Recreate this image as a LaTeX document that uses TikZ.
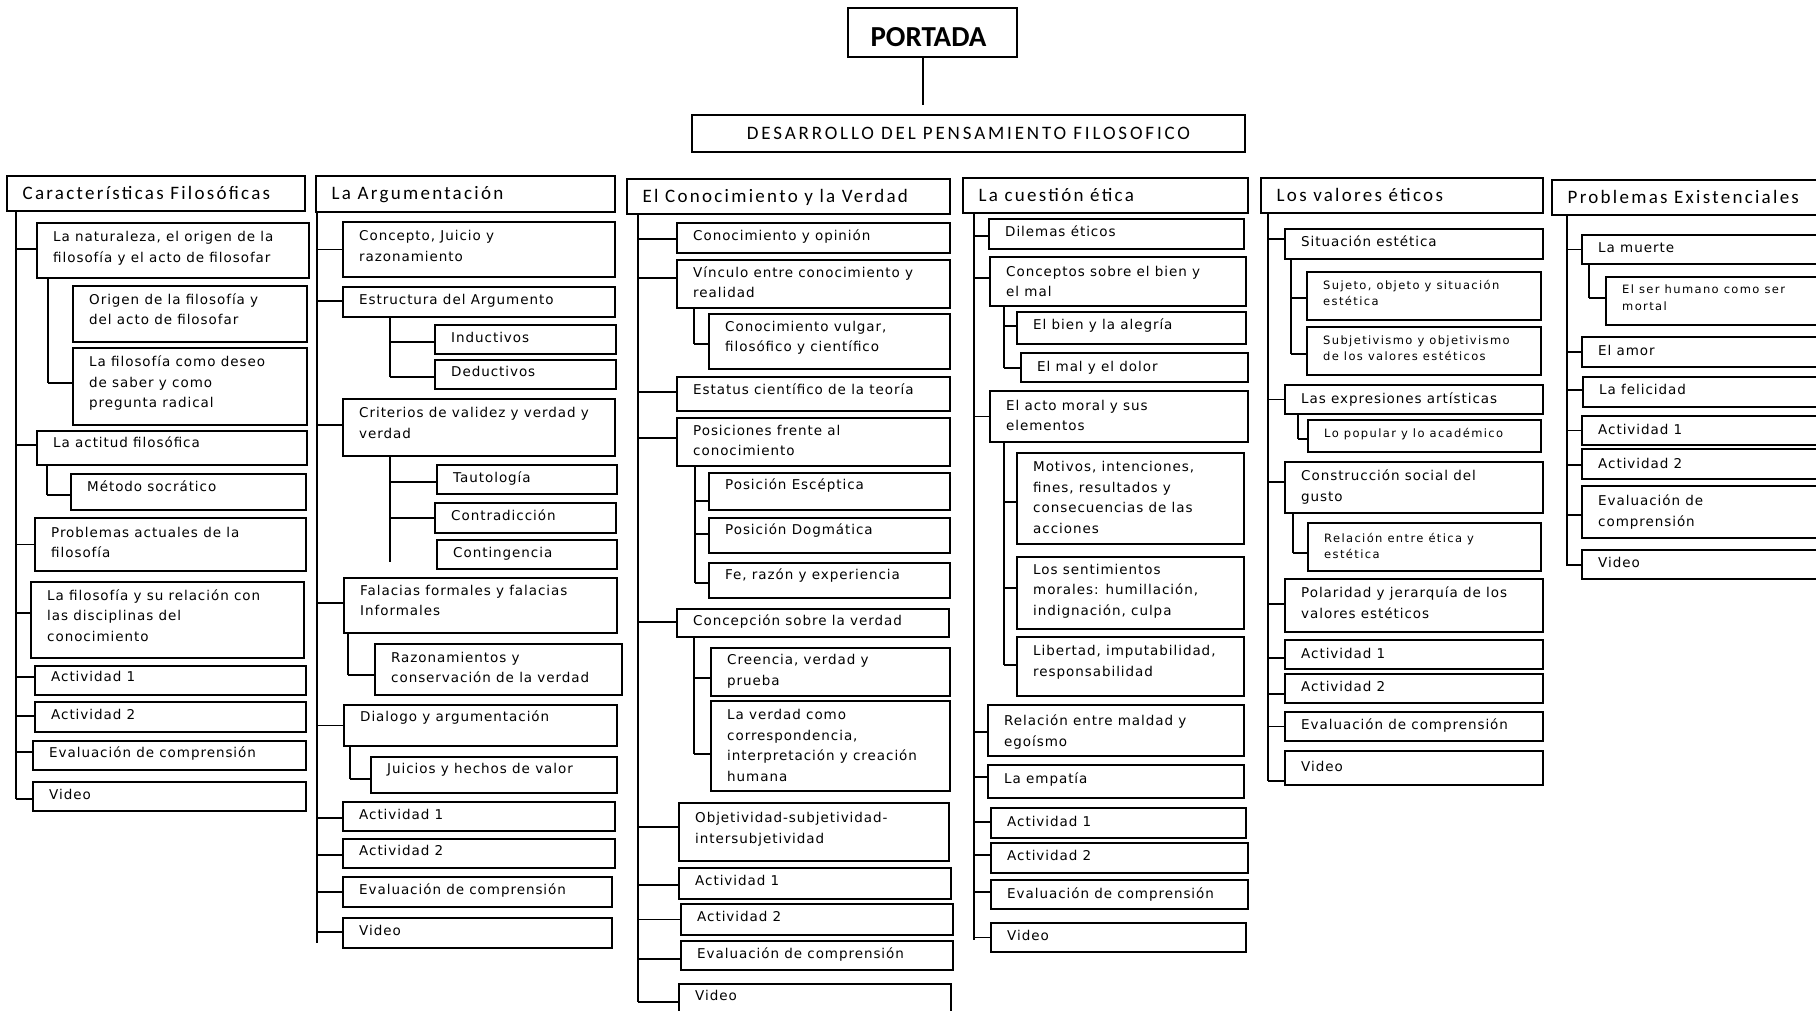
\documentclass[tikz,border=0pt]{standalone}
\usepackage{fontspec}
\usetikzlibrary{calc}
\newfontfamily\hdrfont{Carlito}[LetterSpace=12]
\newfontfamily\ttlfont{Carlito}[LetterSpace=15]
\newfontfamily\ptfont{Carlito}
\newfontfamily\bxfont{DejaVu Sans}[LetterSpace=7]
\newfontfamily\smfont{DejaVu Sans}[LetterSpace=12]
\tikzset{
 boxs/.style={draw=black, line width=1.6pt, inner sep=0pt, outer sep=0pt, anchor=north west},
 bt/.style={anchor=north west, inner sep=0pt, align=left, font=\bxfont\fontsize{13.5}{20.5}\selectfont},
 st/.style={anchor=north west, inner sep=0pt, align=left, font=\smfont\fontsize{11.5}{16.5}\selectfont},
 ht/.style={anchor=base west, inner sep=0pt, font=\hdrfont\fontsize{19}{23}\selectfont},
 conn/.style={draw=black, line width=1.6pt},
}
\newcommand\bx[8][bt]{%
 \node[boxs, minimum width={#5pt-#3pt}, minimum height={#6pt-#4pt}] (#2) at (#3,#4) {};
 \node[#1] (#2t) at (#3+16,#4+#7-14) {\rule{0pt}{14pt}#8};}
\newcommand\hd[6]{%
 \node[boxs, minimum width={#4pt-#2pt}, minimum height={#5pt-#3pt}] (#1) at (#2,#3) {};
 \node[ht] (#1t) at (#2+15.5,#3+23) {#6};}
\newcommand\br[3]{\path ($(#2.west)+(0,#3)$) coordinate (#2c); \draw[conn] (#1 |- #2c) -- (#2c);}
\newcommand\vl[2]{\draw[conn] (#1 |- #2.south) -- (#1);}
\begin{document}
\begin{tikzpicture}[x=1pt,y=-1pt]
\clip (0,0) rectangle (1816,1010);
\fill[white] (0,0) rectangle (1816,1010);

% top
\node[boxs, minimum width=169pt, minimum height=49pt] (portada) at (848,8) {};
\node[anchor=base, inner sep=0pt, font=\ptfont\bfseries\fontsize{29}{32}\selectfont] (portadat) at (928.5,46.5) {PORTADA};
\coordinate (pd) at (923,105);
\draw[conn] (portada.south -| pd) -- (pd);
\node[boxs, minimum width=553pt, minimum height=37pt, font=\ttlfont\fontsize{19}{23}\selectfont] (des) at (692,115) {DESARROLLO DEL PENSAMIENTO FILOSOFICO};

% column 1
\hd{h1}{7}{176}{305}{211}{Características Filosóficas}
\bx{b11}{37}{223}{309}{278}{18.7}{La naturaleza, el origen de la\\filosofía y el acto de filosofar}
\bx{b111}{73}{286}{307}{342}{18}{Origen de la filosofía y\\del acto de filosofar}
\bx{b112}{73}{348}{307}{425}{18.4}{La filosofía como deseo\\de saber y como\\pregunta radical}
\bx{b12}{37}{431}{307}{465}{16.7}{La actitud filosófica}
\bx{b121}{71}{474}{306}{510}{17.4}{Método socrático}
\bx{b13}{35}{518}{306}{571}{19}{Problemas actuales de la\\filosofía}
\bx{b14}{31}{582}{304}{658}{18}{La filosofía y su relación con\\las disciplinas del\\conocimiento}
\bx{b15}{35}{666}{306}{695}{15.3}{Actividad 1}
\bx{b16}{35}{702}{306}{732}{17.4}{Actividad 2}
\bx{b17}{33}{741}{306}{770}{16.3}{Evaluación de comprensión}
\bx{b18}{33}{782}{306}{811}{17}{Video}
\coordinate (T1) at (16,799); \vl{T1}{h1}
\br{T1}{b11}{-1.5} \br{T1}{b12}{-3} \br{T1}{b13}{0} \br{T1}{b14}{-7}
\br{T1}{b15}{-3.5} \br{T1}{b16}{-1} \br{T1}{b17}{-3.5} \br{T1}{b18}{2.5}
\coordinate (S11) at (48,383); \vl{S11}{b11} \br{S11}{b112}{-3.5}
\coordinate (S12) at (47,495); \vl{S12}{b12} \br{S12}{b121}{3}

% column 2
\hd{h2}{316}{176}{615}{212}{La Argumentación}
\bx{b21}{343}{222}{615}{277}{18.7}{Concepto, Juicio y\\razonamiento}
\bx{b22}{343}{287}{615}{317}{17.7}{Estructura del Argumento}
\bx{b221}{435}{325}{616}{354}{17.7}{Inductivos}
\bx{b222}{435}{360}{616}{389}{16.4}{Deductivos}
\bx{b23}{343}{399}{615}{456}{18.7}{Criterios de validez y verdad y\\verdad}
\bx{b231}{437}{465}{617}{494}{17}{Tautología}
\bx{b232}{435}{503}{616}{533}{17.7}{Contradicción}
\bx{b233}{437}{540}{617}{569}{17}{Contingencia}
\bx{b24}{344}{578}{617}{633}{17}{Falacias formales y falacias\\Informales}
\bx{b241}{375}{644}{622}{695}{18}{Razonamientos y\\conservación de la verdad}
\bx{b25}{344}{705}{617}{746}{16.4}{Dialogo y argumentación}
\bx{b251}{371}{757}{617}{793}{16.4}{Juicios y hechos de valor}
\bx{b26}{343}{802}{615}{831}{17}{Actividad 1}
\bx{b27}{343}{839}{615}{868}{16.7}{Actividad 2}
\bx{b28}{343}{877}{612}{907}{17}{Evaluación de comprensión}
\bx{b29}{343}{918}{612}{948}{17}{Video}
\coordinate (T2) at (317,943); \vl{T2}{h2}
\br{T2}{b21}{0} \br{T2}{b22}{-1} \br{T2}{b23}{-2.5} \br{T2}{b24}{-2.5} \br{T2}{b25}{0}
\br{T2}{b26}{1.5} \br{T2}{b27}{1.5} \br{T2}{b28}{0} \br{T2}{b29}{-1}
\coordinate (S22) at (390,377); \vl{S22}{b22} \br{S22}{b221}{2.5} \br{S22}{b222}{2.5}
\coordinate (S23) at (390,562); \vl{S23}{b23} \br{S23}{b231}{2.5} \br{S23}{b232}{0}
\coordinate (S24) at (348,675); \vl{S24}{b24} \br{S24}{b241}{5.5}
\coordinate (S25) at (350,779); \vl{S25}{b25} \br{S25}{b251}{4}

% column 3
\hd{h3}{627}{179}{950}{214}{El Conocimiento y la Verdad}
\bx{b31}{677}{223}{950}{253}{17}{Conocimiento y opinión}
\bx{b32}{677}{260}{950}{308}{17}{Vínculo entre conocimiento y\\realidad}
\bx{b321}{709}{314}{950}{369}{17}{Conocimiento vulgar,\\filosófico y científico}
\bx{b33}{677}{377}{950}{411}{17}{Estatus científico de la teoría}
\bx{b34}{677}{418}{950}{466}{17}{Posiciones frente al\\conocimiento}
\bx{b341}{709}{473}{950}{510}{16.4}{Posición Escéptica}
\bx{b342}{709}{518}{950}{553}{16.7}{Posición Dogmática}
\bx{b343}{709}{563}{950}{598}{16.4}{Fe, razón y experiencia}
\bx{b35}{677}{609}{949}{637}{16.4}{Concepción sobre la verdad}
\bx{b351}{711}{648}{950}{696}{16.4}{Creencia, verdad y\\prueba}
\bx{b352}{711}{701}{950}{791}{18.4}{La verdad como\\correspondencia,\\interpretación y creación\\humana}
\bx{b36}{679}{803}{949}{861}{19.3}{Objetividad-subjetividad-\\intersubjetividad}
\bx{b37}{679}{868}{951}{899}{17}{Actividad 1}
\bx{b38}{681}{904}{953}{935}{17}{Actividad 2}
\bx{b39}{681}{941}{953}{970}{17}{Evaluación de comprensión}
\bx{b310}{679}{984}{951}{1015}{16.4}{Video}
\coordinate (T3) at (638,1002); \vl{T3}{h3}
\br{T3}{b31}{1} \br{T3}{b32}{-6} \br{T3}{b33}{-2} \br{T3}{b34}{-4} \br{T3}{b35}{-1}
\br{T3}{b36}{-5} \br{T3}{b37}{1.5} \br{T3}{b38}{0} \br{T3}{b39}{3.5} \br{T3}{b310}{2.5}
\coordinate (S32) at (694,344); \vl{S32}{b32} \br{S32}{b321}{2.5}
\coordinate (S34) at (695,583); \vl{S34}{b34} \br{S34}{b341}{9.5} \br{S34}{b342}{-1.5} \br{S34}{b343}{2.5}
\coordinate (S35) at (694,754); \vl{S35}{b35} \br{S35}{b351}{6} \br{S35}{b352}{8}

% column 4
\hd{h4}{963}{178}{1248}{213}{La cuestión ética}
\bx{b41}{989}{219}{1244}{249}{17.7}{Dilemas éticos}
\bx{b42}{990}{257}{1246}{306}{19}{Conceptos sobre el bien y\\el mal}
\bx{b421}{1017}{312}{1246}{344}{17}{El bien y la alegría}
\bx{b422}{1021}{353}{1248}{382}{18.3}{El mal y el dolor}
\bx{b43}{990}{391}{1248}{442}{19}{El acto moral y sus\\elementos}
\bx{b431}{1017}{453}{1244}{544}{18.7}{Motivos, intenciones,\\fines, resultados y\\consecuencias de las\\acciones}
\bx{b432}{1017}{557}{1244}{629}{17}{Los sentimientos\\morales: humillación,\\indignación, culpa}
\bx{b433}{1017}{637}{1244}{696}{18.7}{Libertad, imputabilidad,\\responsabilidad}
\bx{b44}{988}{705}{1244}{756}{20.4}{Relación entre maldad y\\egoísmo}
\bx{b45}{988}{765}{1244}{798}{18}{La empatía}
\bx{b46}{991}{808}{1246}{838}{18.3}{Actividad 1}
\bx{b47}{991}{843}{1248}{873}{17.7}{Actividad 2}
\bx{b48}{991}{880}{1248}{909}{18}{Evaluación de comprensión}
\bx{b49}{991}{923}{1246}{952}{17.7}{Video}
\coordinate (T4) at (974,940); \vl{T4}{h4}
\br{T4}{b41}{2} \br{T4}{b42}{-3.5} \br{T4}{b43}{0} \br{T4}{b44}{1.5} \br{T4}{b45}{-4.5}
\br{T4}{b46}{-1} \br{T4}{b47}{-3} \br{T4}{b48}{-2.5} \br{T4}{b49}{0}
\coordinate (S42) at (1004,368); \vl{S42}{b42} \br{S42}{b421}{-2} \br{S42}{b422}{0.5}
\coordinate (S43) at (1004,665); \vl{S43}{b43} \br{S43}{b431}{3.5} \br{S43}{b432}{-5} \br{S43}{b433}{-1.5}

% column 5
\hd{h5}{1261}{178}{1543}{213}{Los valores éticos}
\bx{b51}{1285}{229}{1543}{259}{17.6}{Situación estética}
\bx[st]{b511}{1307}{272}{1541}{320}{17}{Sujeto, objeto y situación\\estética}
\bx[st]{b512}{1307}{327}{1541}{375}{17}{Subjetivismo y objetivismo\\de los valores estéticos}
\bx{b52}{1285}{385}{1543}{414}{18.3}{Las expresiones artísticas}
\bx[st]{b521}{1308}{420}{1541}{452}{17.3}{Lo popular y lo académico}
\bx{b53}{1285}{462}{1543}{513}{18.3}{Construcción social del\\gusto}
\bx[st]{b531}{1308}{523}{1541}{571}{19}{Relación entre ética y\\estética}
\bx{b54}{1285}{579}{1543}{632}{18.3}{Polaridad y jerarquía de los\\valores estéticos}
\bx{b55}{1285}{640}{1543}{669}{18.4}{Actividad 1}
\bx{b56}{1285}{674}{1543}{703}{17.6}{Actividad 2}
\bx{b57}{1285}{712}{1543}{741}{16.8}{Evaluación de comprensión}
\bx{b58}{1285}{751}{1543}{785}{20.5}{Video}
\coordinate (T5) at (1268,781); \vl{T5}{h5}
\br{T5}{b51}{-5} \br{T5}{b52}{0} \br{T5}{b53}{-5.5} \br{T5}{b54}{-1.5}
\br{T5}{b55}{3.5} \br{T5}{b56}{5.5} \br{T5}{b57}{0} \br{T5}{b58}{13}
\coordinate (S51) at (1291,354); \vl{S51}{b51} \br{S51}{b511}{2} \br{S51}{b512}{3}
\coordinate (S52) at (1298,439); \vl{S52}{b52} \br{S52}{b521}{3}
\coordinate (S53) at (1293,553); \vl{S53}{b53} \br{S53}{b531}{6}

% column 6
\hd{h6}{1552}{180}{1830}{215}{Problemas Existenciales}
\bx{b61}{1582}{235}{1830}{264}{17.7}{La muerte}
\bx[st]{b611}{1606}{277}{1830}{325}{16.5}{El ser humano como ser\\mortal}
\bx{b62}{1582}{337}{1830}{367}{18.7}{El amor}
\bx{b63}{1583}{377}{1830}{407}{17}{La felicidad}
\bx{b64}{1582}{416}{1830}{445}{18}{Actividad 1}
\bx{b65}{1582}{449}{1830}{479}{19.4}{Actividad 2}
\bx{b66}{1582}{486}{1830}{538}{19.4}{Evaluación de\\comprensión}
\bx{b67}{1582}{550}{1830}{579}{17}{Video}
\coordinate (T6) at (1567,566); \vl{T6}{h6}
\br{T6}{b61}{0} \br{T6}{b62}{0} \br{T6}{b63}{-2} \br{T6}{b64}{0}
\br{T6}{b65}{1} \br{T6}{b66}{3} \br{T6}{b67}{0.5}
\coordinate (S61) at (1589,298); \vl{S61}{b61} \br{S61}{b611}{-3}
\end{tikzpicture}
\end{document}
